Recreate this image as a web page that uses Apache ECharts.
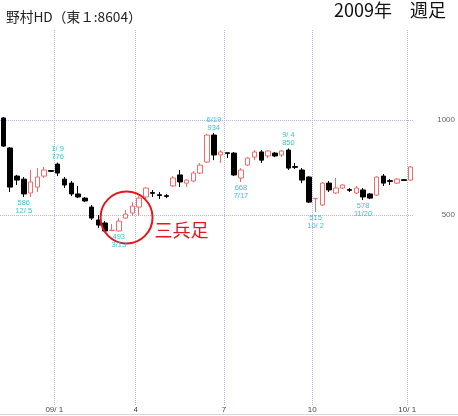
<!DOCTYPE html>
<html>
<head>
<meta charset="utf-8">
<script src="https://cdn.jsdelivr.net/npm/echarts@6/dist/echarts.min.js"></script>
<style>
  html, body { margin: 0; padding: 0; background: #fff; }
  #chart { width: 458px; height: 416px; }
</style>
</head>
<body>
<div id="chart"></div>
<script>
// 週足 2008/11 - 2010/1
var weeks = [
  "2008/11/14", "2008/11/21", "2008/11/28", "2008/12/5", "2008/12/12", "2008/12/19", "2008/12/26", "2008/12/30",
  "2009/1/9", "2009/1/16", "2009/1/23", "2009/1/30", "2009/2/6", "2009/2/13", "2009/2/20", "2009/2/27",
  "2009/3/6", "2009/3/13", "2009/3/19", "2009/3/27", "2009/4/3", "2009/4/10", "2009/4/17", "2009/4/24",
  "2009/5/1", "2009/5/8", "2009/5/15", "2009/5/22", "2009/5/29", "2009/6/5", "2009/6/12", "2009/6/19",
  "2009/6/26", "2009/7/3", "2009/7/10", "2009/7/17", "2009/7/24", "2009/7/31", "2009/8/7", "2009/8/14",
  "2009/8/21", "2009/8/28", "2009/9/4", "2009/9/11", "2009/9/18", "2009/9/25", "2009/10/2", "2009/10/9",
  "2009/10/16", "2009/10/23", "2009/10/30", "2009/11/6", "2009/11/13", "2009/11/20", "2009/11/27", "2009/12/4",
  "2009/12/11", "2009/12/18", "2009/12/25", "2009/12/30", "2010/1/8"
];
var opens = [
  1011, 853, 705, 689, 616, 647, 705, 734, 768, 689, 668, 611, 589, 542, 474, 458,
  418, 416, 484, 511, 542, 595, 618, 607, 602, 653, 711, 668, 679, 721, 779, 921,
  816, 828, 826, 695, 763, 805, 832, 811, 826, 816, 842, 755, 737, 700, 586, 553,
  668, 616, 642, 634, 616, 632, 611, 605, 705, 681, 668, 686, 684
];
var closes = [
  863, 647, 684, 611, 674, 700, 737, 730, 721, 658, 611, 595, 574, 484, 447, 416,
  420, 468, 505, 547, 589, 642, 614, 603, 598, 695, 674, 684, 721, 763, 921, 816,
  832, 824, 711, 737, 800, 832, 789, 837, 811, 837, 747, 751, 684, 568, 588, 668,
  632, 642, 658, 630, 642, 595, 589, 700, 668, 677, 689, 682, 753
];
var lows = [
  858, 621, 658, 595, 595, 621, 695, 726, 705, 642, 600, 589, 568, 474, 432, 411,
  416, 413, 479, 495, 495, 584, 595, 584, 589, 647, 647, 647, 674, 716, 774, 789,
  774, 800, 705, 674, 758, 789, 774, 800, 805, 805, 737, 742, 668, 563, 515, 547,
  621, 611, 637, 621, 611, 579, 584, 600, 653, 658, 663, 679, 679
];
var highs = [
  1015, 858, 711, 700, 737, 747, 753, 737, 776, 700, 679, 653, 595, 553, 500, 468,
  453, 484, 526, 568, 600, 647, 632, 621, 611, 705, 737, 689, 732, 774, 926, 932,
  842, 828, 832, 747, 805, 842, 842, 842, 832, 842, 850, 774, 747, 705, 589, 674,
  679, 695, 663, 642, 653, 642, 616, 705, 716, 689, 695, 689, 758
];

// 月の区切り（その月の最初の週）
var monthIdx = [8, 20, 33, 46, 60];
var monthLabels = ["09/ 1", "4", "7", "10", "10/ 1"];
var priceLabels = [500, 1000];

// 高値・安値の注記
var noteIdx = [3, 8, 17, 31, 35, 42, 46, 53];
var noteText = ["586\n12/ 5", "1/ 9\n776", "493\n3/13", "6/19\n934", "668\n7/17", "9/ 4\n850", "515\n10/ 2", "578\n11/20"];
var noteAt = ["low", "high", "low", "high", "low", "high", "low", "low"];

// 三兵足の丸
var markIdx = 18;
var markPrice = 487;
var markText = "三兵足";

var candles = weeks.map(function (w, i) {
  return [opens[i], closes[i], lows[i], highs[i]];
});

var lowestIdx = lows.indexOf(Math.min.apply(null, lows));

var notes = noteIdx.map(function (idx, k) {
  var isHigh = noteAt[k] === "high";
  return {
    coord: [weeks[idx], isHigh ? highs[idx] : lows[idx]],
    symbol: "circle",
    symbolSize: 1,
    itemStyle: { color: "rgba(0,0,0,0)" },
    label: {
      show: true,
      formatter: noteText[k],
      position: isHigh ? "top" : "bottom",
      distance: 1,
      fontSize: 7.5,
      lineHeight: 8,
      fontFamily: "Liberation Sans",
      color: idx === lowestIdx ? "#555" : "#3cc4cc"
    }
  };
});

notes.push({
  coord: [weeks[markIdx], markPrice],
  symbol: "circle",
  symbolSize: 52,
  symbolOffset: [1, 0],
  itemStyle: { color: "rgba(0,0,0,0)", borderColor: "#e8141c", borderWidth: 2 },
  label: {
    show: true,
    formatter: markText,
    position: "right",
    distance: 1,
    offset: [0, 13],
    fontSize: 18,
    fontFamily: "Noto Sans CJK JP",
    color: "#e8141c"
  }
});

// 月の区切りは週と週の間に引く
var monthEdges = monthIdx.map(function (i) { return i - 0.5; });

var chart = echarts.init(document.getElementById("chart"));
var option = {
  animation: false,
  backgroundColor: "#fff",
  graphic: [
    {
      type: "text",
      left: 6,
      top: 10,
      style: { text: "野村HD（東１:8604）", fontSize: 13.7, fontFamily: "Noto Sans CJK JP", fill: "#222" }
    },
    {
      type: "text",
      left: 334,
      top: 1,
      style: { text: "2009年　週足", fontSize: 18, fontFamily: "Noto Sans CJK JP", fill: "#111" }
    },
    {
      type: "line",
      shape: { x1: 0, y1: 414.5, x2: 458, y2: 414.5 },
      style: { stroke: "#d4d4d4", lineWidth: 1 }
    }
  ],
  grid: {
    left: -4.1,
    right: 43.5,
    top: 30,
    bottom: 11
  },
  xAxis: [
    {
      type: "category",
      data: weeks,
      boundaryGap: true,
      show: false
    },
    {
      type: "value",
      position: "bottom",
      min: -0.5,
      max: weeks.length - 0.5,
      axisLine: { show: false },
      axisTick: { show: false, customValues: monthEdges },
      axisLabel: {
        customValues: monthEdges,
        formatter: function (v) {
          return monthLabels[monthIdx.indexOf(Math.round(v + 0.5))];
        },
        margin: 1,
        fontSize: 8,
        fontFamily: "Liberation Sans",
        color: "#444"
      },
      splitLine: {
        show: true,
        lineStyle: { color: "#b4b4ee", type: "dotted", width: 1 }
      }
    }
  ],
  yAxis: {
    type: "value",
    position: "right",
    min: -500,
    max: 1474,
    interval: 500,
    axisLine: { show: false },
    axisTick: { show: false },
    axisLabel: {
      margin: 41,
      align: "right",
      fontSize: 8,
      fontFamily: "Liberation Sans",
      color: "#666",
      formatter: function (v) {
        return priceLabels.indexOf(v) >= 0 ? String(v) : "";
      }
    },
    splitLine: {
      show: true,
      lineStyle: {
        color: ["rgba(0,0,0,0)", "rgba(0,0,0,0)", "#b4b4ee", "#b4b4ee", "rgba(0,0,0,0)"],
        type: "dotted",
        width: 1
      }
    }
  },
  series: [
    {
      type: "candlestick",
      xAxisIndex: 0,
      data: candles,
      barWidth: 5,
      itemStyle: {
        color: "#fff",
        color0: "#000",
        borderColor: "#f26b6b",
        borderColor0: "#000",
        borderWidth: 1
      },
      markPoint: {
        silent: true,
        data: notes
      }
    }
  ]
};
chart.setOption(option);
</script>
</body>
</html>
